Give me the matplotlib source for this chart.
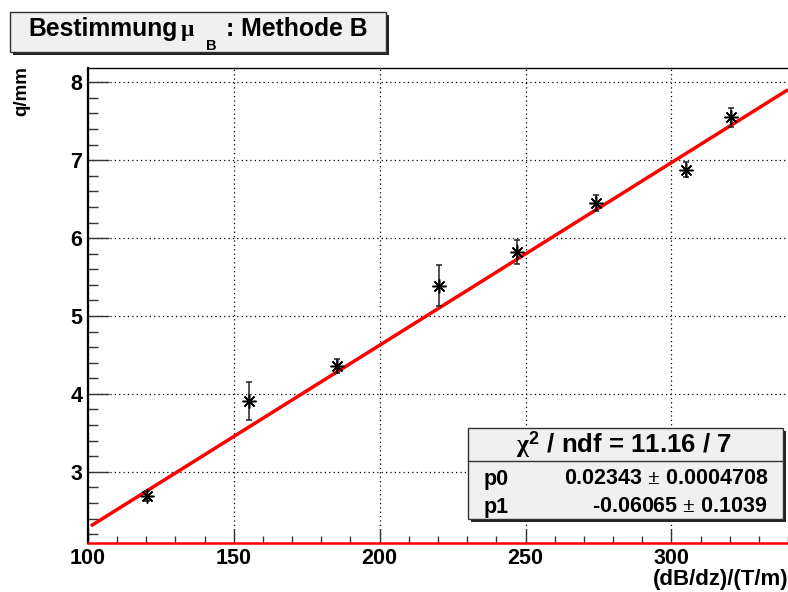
import matplotlib
matplotlib.use("Agg")
import matplotlib.pyplot as plt
from matplotlib.patches import Rectangle
from matplotlib.ticker import MultipleLocator
import numpy as np

grad_b = [120.1, 155.1, 185.3, 220.3, 247.0, 274.2, 305.0, 320.4]
q_mm = [2.69, 3.91, 4.36, 5.39, 5.82, 6.45, 6.88, 7.55]
q_err = [0.07, 0.245, 0.09, 0.26, 0.15, 0.10, 0.10, 0.125]

# Fitparameter aus der Statistikbox
p0, p0_err = 0.02343, 0.0004708
p1, p1_err = -0.06065, 0.1039
chi2, ndf = 11.16, 7
fit_range = [101.0, 340.0]

plt.rcParams['font.family'] = ['Liberation Sans', 'DejaVu Sans']
plt.rcParams['font.weight'] = 'bold'
plt.rcParams['mathtext.fontset'] = 'custom'
plt.rcParams['mathtext.rm'] = 'Liberation Serif'
plt.rcParams['mathtext.bf'] = 'Liberation Sans:bold'
plt.rcParams['mathtext.it'] = 'Liberation Serif'

W, H = 788, 592
fig = plt.figure(figsize=(W / 100, H / 100), dpi=100)
ax = fig.add_axes([88 / W, (H - 542.7) / H, (W - 88) / W, (542.7 - 68.3) / H])

# Fit-Gerade
xf = np.linspace(fit_range[0], fit_range[1], 200)
ax.plot(xf, p0 * xf + p1, color='#ff0000', lw=2.5, zorder=3, solid_capstyle='butt')

# Messpunkte
ax.errorbar(grad_b, q_mm, yerr=q_err, fmt='none', ecolor='#222222', elinewidth=1.1,
            capsize=2.5, capthick=1.1, zorder=4)
ax.plot(grad_b, q_mm, ls='none', marker=(8, 2, 0), ms=10, mew=1.1, color='black', zorder=5)

ax.set_xlim(100, 340)
ax.set_ylim(2.09, 8.18)
ax.xaxis.set_major_locator(MultipleLocator(50))
ax.xaxis.set_minor_locator(MultipleLocator(10))
ax.yaxis.set_major_locator(MultipleLocator(1))
ax.yaxis.set_minor_locator(MultipleLocator(0.2))
ax.yaxis.set_major_formatter(plt.FuncFormatter(lambda v, p: '' if v < 2.5 else '%d' % v))
ax.grid(True, which='major', color='black', ls=(0, (1, 2.5)), lw=0.9)

ax.tick_params(which='both', direction='in', top=False, right=False, labelsize=15.5,
               width=1.0, color='#333333')
ax.tick_params(axis='x', which='major', length=10, pad=4)
ax.tick_params(axis='x', which='minor', length=5)
ax.tick_params(axis='y', which='major', length=15, pad=4)
ax.tick_params(axis='y', which='minor', length=7)
for lab in ax.get_xticklabels() + ax.get_yticklabels():
    lab.set_fontweight('bold')

ax.spines['left'].set_linewidth(1.6)
ax.spines['top'].set_linewidth(1.0)
ax.spines['right'].set_visible(False)
ax.spines['bottom'].set_color('#ff0000')
ax.spines['bottom'].set_linewidth(1.8)

fig.text(22 / W, 1 - 66 / H, 'q/mm', rotation=90, ha='center', va='top',
         fontsize=13.5, fontweight='bold')
fig.text(1 + 1 / W, 1 - 580 / H, '(dB/dz)/(T/m)', ha='right', va='center',
         fontsize=16, fontweight='bold')

# Overlay in Pixelkoordinaten fuer Titel- und Statistikbox
ov = fig.add_axes([0, 0, 1, 1], facecolor='none', zorder=10)
ov.set_xlim(0, W)
ov.set_ylim(H, 0)
ov.axis('off')


def box(x0, y0, x1, y1):
    ov.add_patch(Rectangle((x0 + 3, y0 + 3), x1 - x0, y1 - y0, facecolor='#222222',
                           edgecolor='none'))
    ov.add_patch(Rectangle((x0, y0), x1 - x0, y1 - y0, facecolor='#f0f0f0',
                           edgecolor='#333333', lw=1.0))


# Titel
box(10, 12, 386, 52)
ov.text(28, 36, 'Bestimmung', ha='left', va='baseline', fontsize=17.8, fontweight='bold')
ov.text(180, 36, r'$\mu$', ha='left', va='baseline', fontsize=17, fontweight='normal')
ov.text(206, 49.5, 'B', ha='left', va='baseline', fontsize=10.5, fontweight='bold')
ov.text(226, 36, ': Methode B', ha='left', va='baseline', fontsize=17.8, fontweight='bold')

# Statistikbox
box(468, 428, 783, 519)
ov.plot([468, 783], [461, 461], color='#333333', lw=1.0)
ov.text(624, 445, r'$\chi^{\mathbf{2}}$ / ndf = %.2f / %d' % (chi2, ndf), ha='center',
        va='center', fontsize=18.5, fontweight='bold')
ov.text(484, 479, 'p0', ha='left', va='center', fontsize=15.5, fontweight='bold')
ov.text(768, 479, r'%.5f $\pm$ %.7f' % (p0, p0_err), ha='right', va='center',
        fontsize=15.5, fontweight='bold')
ov.text(484, 507, 'p1', ha='left', va='center', fontsize=15.5, fontweight='bold')
ov.text(768, 507, r'%.5f $\pm$ %.4f' % (p1, p1_err), ha='right', va='center',
        fontsize=15.5, fontweight='bold')

fig.savefig('out.png', dpi=100)
